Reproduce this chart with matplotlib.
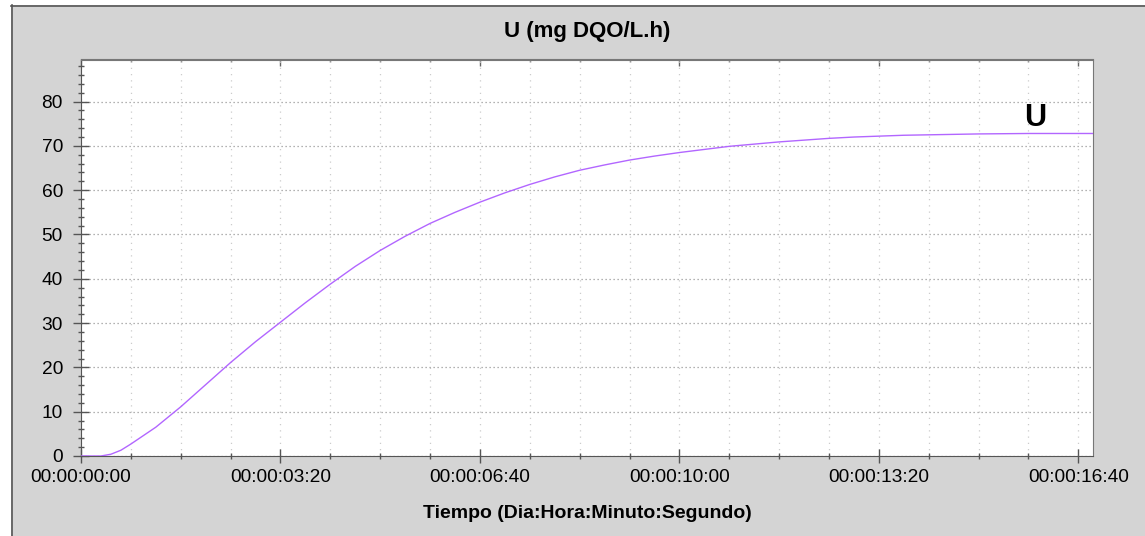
import matplotlib
matplotlib.use("Agg")
import matplotlib.pyplot as plt
from matplotlib.patches import Rectangle
from matplotlib.lines import Line2D
from matplotlib.ticker import MultipleLocator, FuncFormatter

plt.rcParams['font.family'] = ['Liberation Sans', 'DejaVu Sans']

# time in seconds, U in mg DQO/L.h
tiempo = [0, 20, 30, 40, 50, 75, 100, 125, 150, 175, 200, 225, 250, 275, 300,
          325, 350, 375, 400, 425, 450, 475, 500, 525, 550, 575, 600, 625,
          650, 675, 700, 725, 750, 775, 800, 825, 850, 875, 900, 925, 950, 1015]
u_vals = [0, 0, 0.4, 1.3, 2.7, 6.5, 11.1, 16.1, 21.1, 25.8, 30.2, 34.6, 38.8,
          42.8, 46.4, 49.6, 52.5, 55.0, 57.3, 59.4, 61.3, 63.0, 64.5, 65.7,
          66.8, 67.7, 68.5, 69.2, 69.9, 70.4, 70.9, 71.3, 71.7, 72.0, 72.2,
          72.4, 72.5, 72.6, 72.7, 72.75, 72.8, 72.8]

titulo = "U (mg DQO/L.h)"
xlabel = "Tiempo (Dia:Hora:Minuto:Segundo)"
serie = "U"


def fmt_tiempo(v, pos):
    s = int(round(v))
    d, s = divmod(s, 86400)
    h, s = divmod(s, 3600)
    m, s = divmod(s, 60)
    return f"{d:02d}:{h:02d}:{m:02d}:{s:02d}"


W, H = 1145, 536
fig = plt.figure(figsize=(W / 100, H / 100), dpi=100)
fig.patch.set_facecolor('white')

# gray panel with dark left/top border
fig.patches.append(Rectangle((11 / W, 0), 1, 1 - 5 / H, transform=fig.transFigure,
                             facecolor='#d4d4d4', edgecolor='none', zorder=-10))
fig.lines.append(Line2D([11.5 / W, 11.5 / W], [0, 1 - 5 / H], transform=fig.transFigure,
                        color='#555555', lw=1.2))
fig.lines.append(Line2D([11 / W, 1], [1 - 5.5 / H, 1 - 5.5 / H], transform=fig.transFigure,
                        color='#555555', lw=1.2))

ax = fig.add_axes([81 / W, 1 - 456 / H, (1093 - 81) / W, (456 - 59.5) / H])
ax.set_facecolor('white')

ax.plot(tiempo, u_vals, color='#b266ff', lw=1.0, zorder=3)
ax.text(957, 74.4, serie, fontsize=22, fontweight='bold', ha='center', va='baseline')

ax.set_xlim(0, 1014.7)
ax.set_ylim(0, 89.5)

ax.xaxis.set_major_locator(MultipleLocator(200))
ax.xaxis.set_minor_locator(MultipleLocator(50))
ax.xaxis.set_major_formatter(FuncFormatter(fmt_tiempo))
ax.yaxis.set_major_locator(MultipleLocator(10))
ax.yaxis.set_minor_locator(MultipleLocator(2))

ax.tick_params(axis='x', which='major', direction='inout', length=10, width=1,
               color='#555555', labelsize=13.8, pad=4)
ax.tick_params(axis='x', which='minor', direction='inout', length=5, width=1,
               color='#555555')
ax.tick_params(axis='y', which='major', direction='inout', length=11, width=1,
               color='#555555', labelsize=13.8, pad=7.5)
ax.tick_params(axis='y', which='minor', direction='inout', length=5, width=1,
               color='#555555')

top = ax.secondary_xaxis('top')
top.xaxis.set_major_locator(MultipleLocator(200))
top.xaxis.set_minor_locator(MultipleLocator(50))
top.tick_params(which='major', direction='in', length=5, width=1, color='#666666',
                labeltop=False)
top.tick_params(which='minor', direction='in', length=2.5, width=1, color='#666666')
top.spines['top'].set_color('#777777')

ax.grid(True, axis='y', which='major', color='#999999', lw=0.9, linestyle=(0, (1, 2.2)))
ax.grid(True, axis='x', which='both', color='#cccccc', lw=0.9, linestyle=(0, (1, 4)))

ax.spines['left'].set_color('#555555')
ax.spines['bottom'].set_color('#555555')
ax.spines['right'].set_color('#777777')
ax.spines['top'].set_color('#777777')

fig.text(587 / W, 1 - 31.5 / H, titulo, fontsize=16, fontweight='bold',
         ha='center', va='center')
fig.text(587 / W, 1 - 513 / H, xlabel, fontsize=14, fontweight='bold',
         ha='center', va='center')

fig.savefig('out.png', dpi=100, facecolor=fig.get_facecolor())
